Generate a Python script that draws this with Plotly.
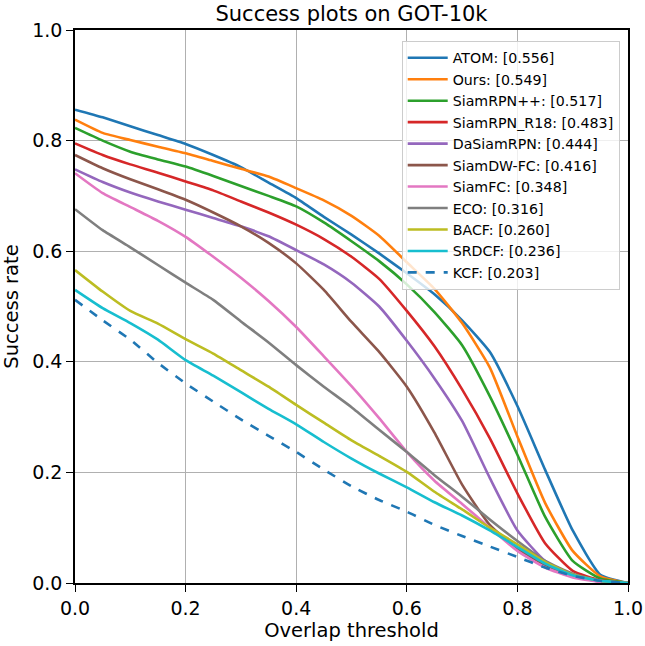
import plotly.graph_objects as go

thresholds = [0.00, 0.05, 0.10, 0.15, 0.20, 0.25, 0.30, 0.35, 0.40, 0.45, 0.50,
              0.55, 0.60, 0.65, 0.70, 0.75, 0.80, 0.85, 0.90, 0.95, 1.00]

atom = [0.856, 0.842, 0.826, 0.810, 0.794, 0.774, 0.752, 0.724, 0.696, 0.662, 0.630,
        0.596, 0.560, 0.522, 0.475, 0.418, 0.320, 0.205, 0.095, 0.015, 0.0]
ours = [0.838, 0.814, 0.801, 0.789, 0.777, 0.763, 0.749, 0.735, 0.714, 0.692, 0.664,
        0.628, 0.580, 0.532, 0.470, 0.390, 0.265, 0.145, 0.058, 0.012, 0.0]
siamrpnpp = [0.823, 0.800, 0.780, 0.766, 0.753, 0.736, 0.718, 0.700, 0.681, 0.652, 0.618,
             0.582, 0.540, 0.490, 0.430, 0.338, 0.232, 0.120, 0.040, 0.008, 0.0]
siamrpn_r18 = [0.795, 0.774, 0.757, 0.742, 0.726, 0.710, 0.690, 0.670, 0.648, 0.622, 0.590,
               0.550, 0.492, 0.428, 0.350, 0.262, 0.162, 0.072, 0.022, 0.005, 0.0]
dasiamrpn = [0.748, 0.725, 0.706, 0.690, 0.675, 0.660, 0.645, 0.627, 0.602, 0.576, 0.543,
             0.500, 0.438, 0.370, 0.293, 0.190, 0.095, 0.040, 0.013, 0.003, 0.0]
siamdw_fc = [0.774, 0.750, 0.730, 0.712, 0.693, 0.670, 0.645, 0.615, 0.578, 0.530, 0.472,
             0.418, 0.355, 0.272, 0.178, 0.105, 0.062, 0.033, 0.012, 0.003, 0.0]
siamfc = [0.741, 0.705, 0.680, 0.655, 0.626, 0.590, 0.552, 0.510, 0.463, 0.410, 0.356,
          0.298, 0.237, 0.185, 0.143, 0.100, 0.058, 0.028, 0.010, 0.002, 0.0]
eco = [0.676, 0.638, 0.607, 0.575, 0.543, 0.512, 0.473, 0.435, 0.394, 0.355, 0.318,
       0.277, 0.237, 0.195, 0.156, 0.115, 0.076, 0.040, 0.017, 0.004, 0.0]
bacf = [0.566, 0.527, 0.492, 0.469, 0.441, 0.415, 0.385, 0.355, 0.322, 0.290, 0.258,
        0.230, 0.201, 0.165, 0.133, 0.100, 0.070, 0.038, 0.015, 0.004, 0.0]
srdcf = [0.530, 0.497, 0.470, 0.440, 0.403, 0.375, 0.345, 0.315, 0.287, 0.255, 0.225,
         0.198, 0.173, 0.146, 0.122, 0.095, 0.065, 0.035, 0.014, 0.004, 0.0]
kcf = [0.512, 0.475, 0.440, 0.398, 0.361, 0.328, 0.296, 0.266, 0.237, 0.205, 0.175,
       0.150, 0.129, 0.105, 0.085, 0.066, 0.047, 0.028, 0.013, 0.004, 0.0]

names = ["ATOM: [0.556]", "Ours: [0.549]", "SiamRPN++: [0.517]", "SiamRPN_R18: [0.483]",
         "DaSiamRPN: [0.444]", "SiamDW-FC: [0.416]", "SiamFC: [0.348]", "ECO: [0.316]",
         "BACF: [0.260]", "SRDCF: [0.236]", "KCF: [0.203]"]
series = [atom, ours, siamrpnpp, siamrpn_r18, dasiamrpn, siamdw_fc, siamfc, eco, bacf, srdcf, kcf]
colors = ["#1f77b4", "#ff7f0e", "#2ca02c", "#d62728", "#9467bd", "#8c564b",
          "#e377c2", "#7f7f7f", "#bcbd22", "#17becf", "#1f77b4"]
dashes = ["solid"] * 10 + ["dash"]

fig = go.Figure()
for name, vals, col, dash in zip(names, series, colors, dashes):
    fig.add_trace(go.Scatter(
        x=thresholds, y=vals, mode="lines", name=name,
        line=dict(color=col, width=2.6, dash=dash, shape="spline", smoothing=0.5),
    ))

font_family = "DejaVu Sans"
axis_common = dict(
    range=[0, 1], tickvals=[0, 0.2, 0.4, 0.6, 0.8, 1.0], tickformat=".1f",
    showgrid=True, gridcolor="#b0b0b0", gridwidth=1,
    showline=True, linecolor="black", linewidth=1.5, mirror=True,
    ticks="outside", ticklen=7, tickcolor="black", tickwidth=1.2,
    zeroline=False, tickfont=dict(size=19, color="black", family=font_family),
    automargin=False,
)

fig.update_layout(
    width=645, height=646,
    margin=dict(l=75, r=17, t=30, b=63),
    paper_bgcolor="white", plot_bgcolor="white",
    font=dict(family=font_family, color="black"),
    title=dict(text="Success plots on GOT-10k", xref="paper", x=0.5, xanchor="center",
               yref="container", y=0.979, yanchor="middle", font=dict(size=21, color="black")),
    xaxis=dict(title=dict(text="Overlap threshold", font=dict(size=19.5), standoff=4), **axis_common),
    yaxis=dict(title=dict(text="Success rate", font=dict(size=19.5), standoff=8), **axis_common),
    legend=dict(x=0.985, y=0.98, xanchor="right", yanchor="top",
                bgcolor="rgba(255,255,255,0.8)", bordercolor="#cccccc", borderwidth=1,
                font=dict(size=14.2, color="black", family=font_family),
                tracegroupgap=0, itemwidth=40),
    showlegend=True,
)

fig.write_html("out.html", config={"displayModeBar": False},
               post_script="document.body.style.margin='0';")
